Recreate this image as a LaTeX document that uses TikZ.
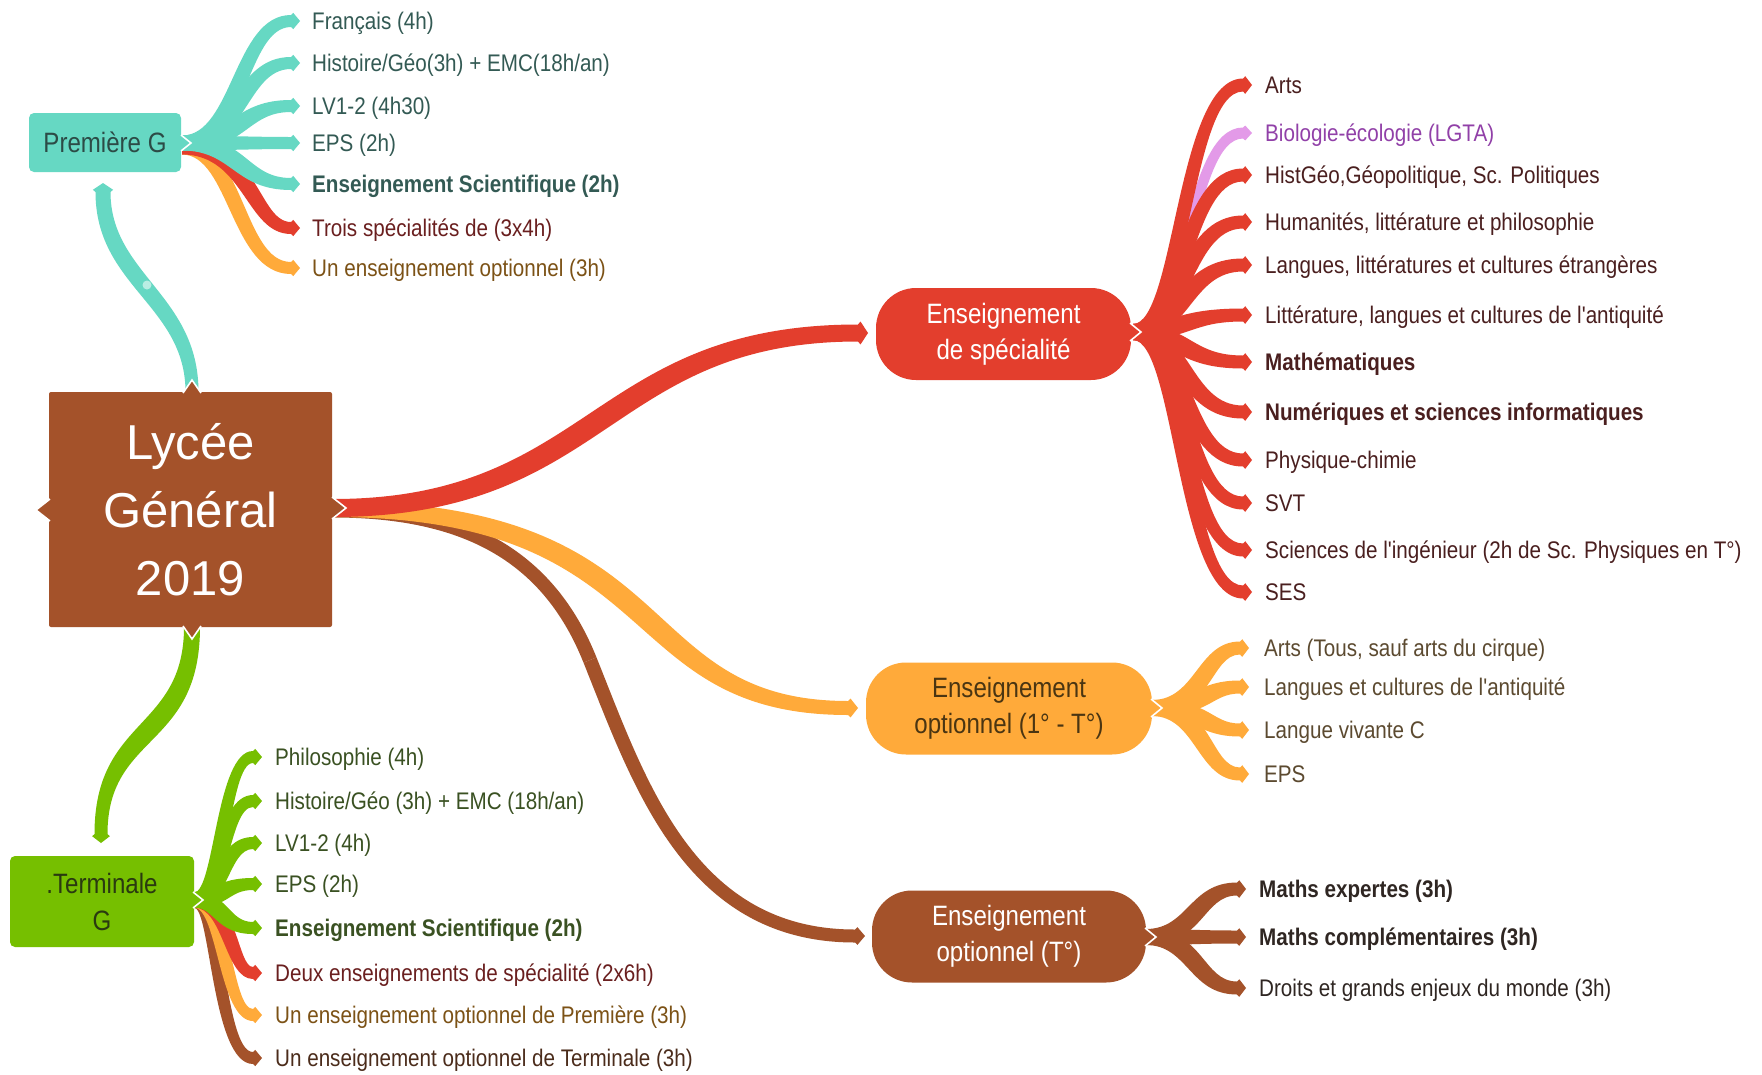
\documentclass[tikz,border=0pt]{standalone}
\usepackage{fontspec}
\setmainfont{Liberation Sans}
\newfontfamily\nar[FakeStretch=0.86]{Liberation Sans}
\usetikzlibrary{calc}
\definecolor{cteal}{HTML}{66D8C3}
\definecolor{cgreen}{HTML}{76BF00}
\definecolor{cbrown}{HTML}{A4522A}
\definecolor{cred}{HTML}{E33E2D}
\definecolor{corange}{HTML}{FFAA3A}
\definecolor{cpink}{HTML}{E39AE8}
\definecolor{ttxt}{HTML}{335A54}
\definecolor{rtxt}{HTML}{6A1F1F}
\definecolor{otxt}{HTML}{7C5216}
\definecolor{btxt}{HTML}{4B2C1B}
\definecolor{gtxt}{HTML}{3A5122}
\definecolor{stxt}{HTML}{4A1F1F}
\definecolor{ptxt}{HTML}{9140A8}
\definecolor{oatxt}{HTML}{5C4A30}
\definecolor{mtxt}{HTML}{2F2622}
\definecolor{oabox}{HTML}{4A3512}
\definecolor{pbox}{HTML}{2C4B46}
\definecolor{tbox}{HTML}{2A3A10}
\makeatletter
\newcommand\getpt[3]{\path #1;\pgfgetlastxy{\gp@x}{\gp@y}\edef#2{\strip@pt\dimexpr\gp@x\relax}\edef#3{\strip@pt\dimexpr\gp@y\relax}}
\makeatother
\newcommand\fpset[2]{\edef#1{\fpeval{round(#2,3)}}}
% tapered branch: colour, P0, P1, P2, P3, width start, width end, tip length
\newcommand\taper[8]{%
 \getpt{#2}\tpAx\tpAy\getpt{#3}\tpBx\tpBy\getpt{#4}\tpCx\tpCy\getpt{#5}\tpDx\tpDy
 \edef\tpLa{\fpeval{max(sqrt(((\tpBx)-(\tpAx))^2+((\tpBy)-(\tpAy))^2),0.001)}}%
 \edef\tpLb{\fpeval{max(sqrt(((\tpCx)-(\tpBx))^2+((\tpCy)-(\tpBy))^2),0.001)}}%
 \edef\tpLc{\fpeval{max(sqrt(((\tpDx)-(\tpCx))^2+((\tpDy)-(\tpCy))^2),0.001)}}%
 \edef\tpNax{\fpeval{-((\tpBy)-(\tpAy))/(\tpLa)}}%
 \edef\tpNay{\fpeval{((\tpBx)-(\tpAx))/(\tpLa)}}%
 \edef\tpNbx{\fpeval{-((\tpCy)-(\tpBy))/(\tpLb)}}%
 \edef\tpNby{\fpeval{((\tpCx)-(\tpBx))/(\tpLb)}}%
 \edef\tpNcx{\fpeval{-((\tpDy)-(\tpCy))/(\tpLc)}}%
 \edef\tpNcy{\fpeval{((\tpDx)-(\tpCx))/(\tpLc)}}%
 \edef\tpHa{\fpeval{(#6)/2}}\edef\tpHb{\fpeval{(#7)/2}}%
 \edef\tpKa{\fpeval{(\tpHa)/max(1+(\tpNax)*(\tpNbx)+(\tpNay)*(\tpNby),0.3)}}%
 \edef\tpKb{\fpeval{(\tpHb)/max(1+(\tpNbx)*(\tpNcx)+(\tpNby)*(\tpNcy),0.3)}}%
 \edef\tpUx{\fpeval{(\tpKa)*((\tpNax)+(\tpNbx))}}%
 \edef\tpUy{\fpeval{(\tpKa)*((\tpNay)+(\tpNby))}}%
 \edef\tpVx{\fpeval{(\tpKb)*((\tpNbx)+(\tpNcx))}}%
 \edef\tpVy{\fpeval{(\tpKb)*((\tpNby)+(\tpNcy))}}%
 \edef\tpSf{\fpeval{1+0.35*min(#8,1)}}%
 \fpset\pAx{(\tpAx)+(\tpHa)*(\tpNax)}\fpset\pAy{(\tpAy)+(\tpHa)*(\tpNay)}%
 \fpset\pBx{(\tpBx)+(\tpUx)}\fpset\pBy{(\tpBy)+(\tpUy)}%
 \fpset\pCx{(\tpCx)+(\tpVx)}\fpset\pCy{(\tpCy)+(\tpVy)}%
 \fpset\pDx{(\tpDx)+(\tpHb)*(\tpNcx)}\fpset\pDy{(\tpDy)+(\tpHb)*(\tpNcy)}%
 \fpset\qAx{(\tpAx)-(\tpHa)*(\tpNax)}\fpset\qAy{(\tpAy)-(\tpHa)*(\tpNay)}%
 \fpset\qBx{(\tpBx)-(\tpUx)}\fpset\qBy{(\tpBy)-(\tpUy)}%
 \fpset\qCx{(\tpCx)-(\tpVx)}\fpset\qCy{(\tpCy)-(\tpVy)}%
 \fpset\qDx{(\tpDx)-(\tpHb)*(\tpNcx)}\fpset\qDy{(\tpDy)-(\tpHb)*(\tpNcy)}%
 \fpset\sAx{(\tpDx)+(\tpSf)*(\tpHb)*(\tpNcx)+0.25*(#8)*(\tpNcy)}%
 \fpset\sAy{(\tpDy)+(\tpSf)*(\tpHb)*(\tpNcy)-0.25*(#8)*(\tpNcx)}%
 \fpset\sBx{(\tpDx)-(\tpSf)*(\tpHb)*(\tpNcx)+0.25*(#8)*(\tpNcy)}%
 \fpset\sBy{(\tpDy)-(\tpSf)*(\tpHb)*(\tpNcy)-0.25*(#8)*(\tpNcx)}%
 \fpset\tTx{(\tpDx)+(#8)*(\tpNcy)}\fpset\tTy{(\tpDy)-(#8)*(\tpNcx)}%
 \fill[#1] (\pAx pt,\pAy pt) .. controls (\pBx pt,\pBy pt) and (\pCx pt,\pCy pt) .. (\pDx pt,\pDy pt)
   -- (\sAx pt,\sAy pt) -- (\tTx pt,\tTy pt) -- (\sBx pt,\sBy pt) -- (\qDx pt,\qDy pt)
   .. controls (\qCx pt,\qCy pt) and (\qBx pt,\qBy pt) .. (\qAx pt,\qAy pt) -- cycle;}
% child branch: colour, hub, tip, x offset of trunk, w1, w2
\newcommand\kid[6]{\taper{#1}{(#2)}{($(#2)+(#4,0)$)}{($(#2|-#3)+(#4,0)$)}{(#3)}{#5}{#6}{9}}
\newcommand\straightkid[5]{\taper{#1}{(#2)}{($(#2)+(40,0)$)}{($(#3)+(-40,0)$)}{(#3)}{#4}{#5}{9}}
\newcommand\notch[4]{\fill[#1] #2 -- #3 -- #4 -- cycle; \draw[white,line width=1.6pt] #2 -- #3 -- #4;}
\begin{document}
\begin{tikzpicture}[x=1pt,y=-1pt,
  kidtext/.style={anchor=west,inner sep=0pt,text height=17pt,text depth=0pt,font=\nar\fontsize{24}{28}\selectfont},
  topic/.style={minimum height=92pt,rounded corners=40pt,align=center,inner sep=0pt,font=\nar\fontsize{28}{36}\selectfont},
  levelbox/.style={rounded corners=5pt,align=center,inner sep=0pt,font=\nar\fontsize{28}{37}\selectfont},
  lycbox/.style={fill=cbrown,minimum width=283pt,minimum height=235pt,rounded corners=2pt,text=white,align=center,inner sep=0pt,font=\fontsize{49}{68}\selectfont}]
\fill[white] (0,0) rectangle (1762,1074);
\useasboundingbox (0,0) rectangle (1762,1074);
% ---------- coordinates
\coordinate (lycR) at (333,508);
\coordinate (lycT) at (192,392);
\coordinate (lycB) at (192,627);
\coordinate (preB) at (103,192);
\coordinate (terT) at (101,834);
\coordinate (spL) at (858,333);
\coordinate (oaL) at (848,708);
\coordinate (otL) at (855,936);
\coordinate (bmid) at (590,660);
\coordinate (hubP) at (182,143);
\coordinate (hubPb) at (182,147);
\coordinate (hubT) at (194,900);
\coordinate (hubS) at (1133,332);
\coordinate (hubO) at (1152,708);
\coordinate (hubM) at (1146,937);
\foreach \n/\y in {f1/21,f2/63,f3/106,f4/143,f5/184,f6/228,f7/268}{\coordinate (\n) at (291,\y);}
\foreach \n/\y in {t1/757,t2/801,t3/843,t4/884,t5/928,t6/973,t7/1015,t8/1058}{\coordinate (\n) at (253,\y);}
\foreach \n/\y in {s1/85,s2/133,s3/175,s4/222,s5/265,s6/315,s7/362,s8/412,s9/460,s10/503,s11/550,s12/592}{\coordinate (\n) at (1243,\y);}
\foreach \n/\y in {o1/648,o2/687,o3/730,o4/774}{\coordinate (\n) at (1240,\y);}
\foreach \n/\y in {m1/889,m2/937,m3/988}{\coordinate (\n) at (1237,\y);}
% ---------- main branches
\taper{cbrown}{($(lycR)+(0,2)$)}{($(lycR)+(137,2)$)}{($(bmid)+(-40,-100)$)}{(bmid)}{15}{14}{0}
\taper{cbrown}{(bmid)}{($(bmid)+(50,125)$)}{($(otL)+(-165,0)$)}{(otL)}{14}{13}{10}
\taper{corange}{($(lycR)+(0,1)$)}{($(lycR)+(347,1)$)}{($(oaL)+(-228,0)$)}{(oaL)}{16}{14}{10}
\taper{cred}{(lycR)}{($(lycR)+(267,0)$)}{($(spL)+(-258,0)$)}{(spL)}{18}{17}{10}
% ---------- level connectors
\taper{cteal}{(lycT)}{($(lycT)+(0,-92)$)}{($(preB)+(0,88)$)}{(preB)}{13}{15}{9}
\taper{cgreen}{(lycB)}{($(lycB)+(0,113)$)}{($(terT)+(0,-109)$)}{(terT)}{16}{13}{9}
\fill[white,opacity=0.55] (147,285) circle (4.5pt);
% ---------- Premiere children
\kid{corange}{hubPb}{f7}{55}{15}{12}
\kid{cred}{hubPb}{f6}{70}{15}{12}
\kid{cteal}{hubP}{f1}{58}{15}{12}
\kid{cteal}{hubP}{f2}{58}{15}{12}
\kid{cteal}{hubP}{f3}{58}{15}{12}
\straightkid{cteal}{hubP}{f4}{15}{12}
\kid{cteal}{hubP}{f5}{58}{15}{12}
% ---------- Terminale children
\kid{cbrown}{hubT}{t8}{24}{15}{12}
\kid{corange}{hubT}{t7}{31}{15}{12}
\kid{cred}{hubT}{t6}{37}{15}{12}
\kid{cgreen}{hubT}{t1}{28}{15}{12}
\kid{cgreen}{hubT}{t2}{28}{15}{12}
\kid{cgreen}{hubT}{t3}{28}{15}{12}
\kid{cgreen}{hubT}{t4}{28}{15}{12}
\kid{cgreen}{hubT}{t5}{28}{15}{12}
% ---------- Specialite children
\kid{cpink}{hubS}{s2}{55}{11}{11}
\foreach \n in {s1,s3,s4,s5,s6,s7,s8,s9,s10,s11,s12}{\kid{cred}{hubS}{\n}{50}{16}{13}}
% ---------- Optionnel 1-T children
\foreach \n in {o1,o2,o3,o4}{\kid{corange}{hubO}{\n}{52}{16}{13}}
% ---------- Optionnel T children
\kid{cbrown}{hubM}{m1}{50}{16}{13}
\straightkid{cbrown}{hubM}{m2}{16}{13}
\kid{cbrown}{hubM}{m3}{50}{16}{13}
% ---------- boxes
\node[lycbox] (lyc) at (190.5,509.5) {Lycée\\Général\\2019};
\node[levelbox,fill=cteal,text=pbox,minimum width=152pt,minimum height=59pt] (pre) at (105,142.5) {Première G};
\node[levelbox,fill=cgreen,text=tbox,minimum width=184pt,minimum height=91pt] (ter) at (102,901.5) {.Terminale\\G};
\node[topic,fill=cred,text=white,minimum width=255pt] (spe) at (1003.5,334) {Enseignement\\de spécialité};
\node[topic,fill=corange,text=oabox,minimum width=286pt] (opa) at (1009,708.5) {Enseignement\\optionnel (1° - T°)};
\node[topic,fill=cbrown,text=white,minimum width=274pt] (opt) at (1009,936.5) {Enseignement\\optionnel (T°)};
% ---------- notches
\notch{cbrown}{(183,393)}{(192,380)}{(201,393)}
\notch{cbrown}{(332,497)}{(346,508)}{(332,519)}
\notch{cbrown}{(183,626)}{(192,639)}{(201,626)}
\notch{cbrown}{(50,499)}{(36,510)}{(50,521)}
\notch{cteal}{(181,135)}{(191,143)}{(181,151)}
\notch{cgreen}{(193,892)}{(203,900)}{(193,908)}
\notch{cred}{(1130,323)}{(1141,332)}{(1130,341)}
\notch{corange}{(1151,699)}{(1162,708)}{(1151,717)}
\notch{cbrown}{(1145,928)}{(1156,937)}{(1145,946)}
% ---------- texts
\node[kidtext,text=ttxt] (lf1) at ($(f1)+(21,0)$) {Français (4h)};
\node[kidtext,text=ttxt] (lf2) at ($(f2)+(21,0)$) {Histoire/Géo(3h) + EMC(18h/an)};
\node[kidtext,text=ttxt] (lf3) at ($(f3)+(21,0)$) {LV1-2 (4h30)};
\node[kidtext,text=ttxt] (lf4) at ($(f4)+(21,0)$) {EPS (2h)};
\node[kidtext,text=ttxt,font=\nar\bfseries\fontsize{24}{28}\selectfont] (lf5) at ($(f5)+(21,0)$) {Enseignement Scientifique (2h)};
\node[kidtext,text=rtxt] (lf6) at ($(f6)+(21,0)$) {Trois spécialités de (3x4h)};
\node[kidtext,text=otxt] (lf7) at ($(f7)+(21,0)$) {Un enseignement optionnel (3h)};
\node[kidtext,text=gtxt] (lt1) at ($(t1)+(22,0)$) {Philosophie (4h)};
\node[kidtext,text=gtxt] (lt2) at ($(t2)+(22,0)$) {Histoire/Géo (3h) + EMC (18h/an)};
\node[kidtext,text=gtxt] (lt3) at ($(t3)+(22,0)$) {LV1-2 (4h)};
\node[kidtext,text=gtxt] (lt4) at ($(t4)+(22,0)$) {EPS (2h)};
\node[kidtext,text=gtxt,font=\nar\bfseries\fontsize{24}{28}\selectfont] (lt5) at ($(t5)+(22,0)$) {Enseignement Scientifique (2h)};
\node[kidtext,text=rtxt] (lt6) at ($(t6)+(22,0)$) {Deux enseignements de spécialité (2x6h)};
\node[kidtext,text=otxt] (lt7) at ($(t7)+(22,0)$) {Un enseignement optionnel de Première (3h)};
\node[kidtext,text=btxt] (lt8) at ($(t8)+(22,0)$) {Un enseignement optionnel de Terminale (3h)};
\node[kidtext,text=stxt] (ls1) at ($(s1)+(22,0)$) {Arts};
\node[kidtext,text=ptxt] (ls2) at ($(s2)+(22,0)$) {Biologie-écologie (LGTA)};
\node[kidtext,text=stxt] (ls3) at ($(s3)+(22,0)$) {HistGéo,Géopolitique, Sc. Politiques};
\node[kidtext,text=stxt] (ls4) at ($(s4)+(22,0)$) {Humanités, littérature et philosophie};
\node[kidtext,text=stxt] (ls5) at ($(s5)+(22,0)$) {Langues, littératures et cultures étrangères};
\node[kidtext,text=stxt] (ls6) at ($(s6)+(22,0)$) {Littérature, langues et cultures de l'antiquité};
\node[kidtext,text=stxt,font=\nar\bfseries\fontsize{24}{28}\selectfont] (ls7) at ($(s7)+(22,0)$) {Mathématiques};
\node[kidtext,text=stxt,font=\nar\bfseries\fontsize{24}{28}\selectfont] (ls8) at ($(s8)+(22,0)$) {Numériques et sciences informatiques};
\node[kidtext,text=stxt] (ls9) at ($(s9)+(22,0)$) {Physique-chimie};
\node[kidtext,text=stxt] (ls10) at ($(s10)+(22,0)$) {SVT};
\node[kidtext,text=stxt] (ls11) at ($(s11)+(22,0)$) {Sciences de l'ingénieur (2h de Sc. Physiques en T°)};
\node[kidtext,text=stxt] (ls12) at ($(s12)+(22,0)$) {SES};
\node[kidtext,text=oatxt] (lo1) at ($(o1)+(24,0)$) {Arts (Tous, sauf arts du cirque)};
\node[kidtext,text=oatxt] (lo2) at ($(o2)+(24,0)$) {Langues et cultures de l'antiquité};
\node[kidtext,text=oatxt] (lo3) at ($(o3)+(24,0)$) {Langue vivante C};
\node[kidtext,text=oatxt] (lo4) at ($(o4)+(24,0)$) {EPS};
\node[kidtext,text=mtxt,font=\nar\bfseries\fontsize{24}{28}\selectfont] (lm1) at ($(m1)+(22,0)$) {Maths expertes (3h)};
\node[kidtext,text=mtxt,font=\nar\bfseries\fontsize{24}{28}\selectfont] (lm2) at ($(m2)+(22,0)$) {Maths complémentaires (3h)};
\node[kidtext,text=mtxt] (lm3) at ($(m3)+(22,0)$) {Droits et grands enjeux du monde (3h)};
\end{tikzpicture}
\end{document}
